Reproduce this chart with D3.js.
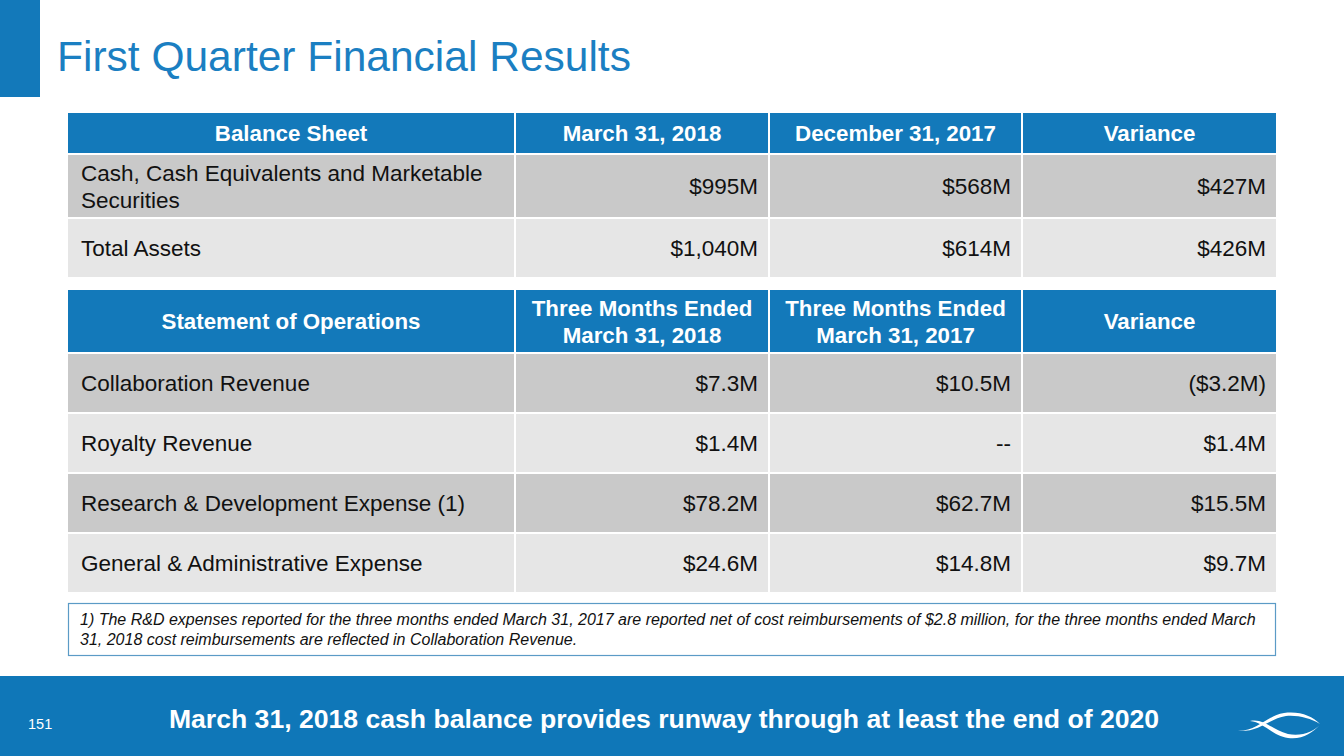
<!DOCTYPE html>
<html>
<head>
<meta charset="utf-8">
<script src="https://cdn.jsdelivr.net/npm/d3@7"></script>
<style>
  body { margin: 0; background: #fff; }
  svg { display: block; font-family: "Liberation Sans", Arial, sans-serif; }
</style>
</head>
<body>
<svg width="1344" height="756"></svg>
<script>
// data
const title = 'First Quarter Financial Results';
const balanceHeaders = [['Balance Sheet'], ['March 31, 2018'], ['December 31, 2017'], ['Variance']];
const balanceLabels = [['Cash, Cash Equivalents and Marketable', 'Securities'], ['Total Assets']];
const balanceMar2018 = ['$995M', '$1,040M'];
const balanceDec2017 = ['$568M', '$614M'];
const balanceVariance = ['$427M', '$426M'];

const opsHeaders = [['Statement of Operations'], ['Three Months Ended', 'March 31, 2018'], ['Three Months Ended', 'March 31, 2017'], ['Variance']];
const opsLabels = [['Collaboration Revenue'], ['Royalty Revenue'], ['Research & Development Expense (1)'], ['General & Administrative Expense']];
const opsQ1_2018 = ['$7.3M', '$1.4M', '$78.2M', '$24.6M'];
const opsQ1_2017 = ['$10.5M', '--', '$62.7M', '$14.8M'];
const opsVariance = ['($3.2M)', '$1.4M', '$15.5M', '$9.7M'];

const footnote = [
  '1) The R&D expenses reported for the three months ended March 31, 2017 are reported net of cost reimbursements of $2.8 million, for the three months ended March',
  '31, 2018 cost reimbursements are reflected in Collaboration Revenue.'
];
const bannerText = 'March 31, 2018 cash balance provides runway through at least the end of 2020';
const pageNumber = '151';

// colours
const blue = '#1379ba';
const titleBlue = '#1b7fc2';
const rowFills = ['#c9c9c9', '#e6e6e6'];

const svg = d3.select('svg');

// header accent + title
svg.append('rect').attr('x', 0).attr('y', 0).attr('width', 40).attr('height', 97).attr('fill', '#1379ba');
svg.append('text')
  .attr('x', 57).attr('y', 71)
  .attr('font-size', 42.5)
  .attr('fill', titleBlue)
  .text(title);

// column scale (shared by both tables)
const colWeights = [448, 254, 253, 255];
const colEdges = [0, ...d3.cumsum(colWeights)];
const xScale = d3.scaleLinear().domain([0, d3.sum(colWeights)]).range([68, 1278]);
const gap = 2;
const lineGap = 27;

const drawTable = (selection, { top, headerH, rowHs, headers, rows }) => {
  const yEdges = [top, ...d3.cumsum([headerH, ...rowHs]).map(v => top + v)];

  const g = selection.append('g');

  // header
  const head = g.selectAll('g.head').data(headers).join('g').attr('class', 'head');
  head.append('rect')
    .attr('x', (d, i) => xScale(colEdges[i]))
    .attr('y', yEdges[0])
    .attr('width', (d, i) => xScale(colEdges[i + 1]) - xScale(colEdges[i]) - gap)
    .attr('height', headerH - gap)
    .attr('fill', blue);
  head.append('text')
    .attr('text-anchor', 'middle')
    .attr('fill', '#fff')
    .attr('font-weight', 'bold')
    .attr('font-size', 22.3)
    .attr('x', (d, i) => (xScale(colEdges[i]) + xScale(colEdges[i + 1]) - gap) / 2)
    .attr('y', d => yEdges[0] + (headerH - gap) / 2 - (d.length - 1) * lineGap / 2)
    .selectAll('tspan').data(d => d).join('tspan')
    .attr('x', function () { return this.parentNode.getAttribute('x'); })
    .attr('dy', (d, i) => i === 0 ? '0.36em' : lineGap)
    .text(d => d);

  // body rows
  const row = g.selectAll('g.row').data(rows).join('g').attr('class', 'row');
  row.each(function (r, ri) {
    const y0 = yEdges[ri + 1];
    const h = yEdges[ri + 2] - y0 - gap;
    const rg = d3.select(this);
    rg.selectAll('rect').data(r).join('rect')
      .attr('x', (d, i) => xScale(colEdges[i]))
      .attr('y', y0)
      .attr('width', (d, i) => xScale(colEdges[i + 1]) - xScale(colEdges[i]) - gap)
      .attr('height', h)
      .attr('fill', rowFills[ri % 2]);
    rg.selectAll('text').data(r).join('text')
      .attr('font-size', 22.5)
      .attr('fill', '#111')
      .attr('text-anchor', (d, i) => i === 0 ? 'start' : 'end')
      .attr('x', (d, i) => i === 0 ? xScale(colEdges[0]) + 13 : xScale(colEdges[i + 1]) - gap - 10)
      .attr('y', d => y0 + h / 2 - ((Array.isArray(d) ? d.length : 1) - 1) * lineGap / 2)
      .each(function (d) {
        const lines = Array.isArray(d) ? d : [d];
        const t = d3.select(this);
        t.selectAll('tspan').data(lines).join('tspan')
          .attr('x', t.attr('x'))
          .attr('dy', (l, i) => i === 0 ? '0.36em' : lineGap)
          .text(l => l);
      });
  });
};

svg.call(drawTable, {
  top: 113,
  headerH: 42,
  rowHs: [64, 60],
  headers: balanceHeaders,
  rows: balanceLabels.map((l, i) => [l, balanceMar2018[i], balanceDec2017[i], balanceVariance[i]])
});

svg.call(drawTable, {
  top: 290,
  headerH: 64,
  rowHs: [60, 60, 60, 60],
  headers: opsHeaders,
  rows: opsLabels.map((l, i) => [l, opsQ1_2018[i], opsQ1_2017[i], opsVariance[i]])
});

// footnote box
svg.append('rect')
  .attr('x', 68.5).attr('y', 603.5).attr('width', 1207).attr('height', 52)
  .attr('fill', '#fff').attr('stroke', '#5b9bc6').attr('stroke-width', 1.2);
svg.append('g').selectAll('text').data(footnote).join('text')
  .attr('x', 80)
  .attr('y', (d, i) => 625 + i * 20)
  .attr('font-size', 16)
  .attr('font-style', 'italic')
  .attr('fill', '#111')
  .text(d => d);

// footer banner
svg.append('rect').attr('x', 0).attr('y', 676).attr('width', 1344).attr('height', 80).attr('fill', '#0f77b8');
svg.append('text')
  .attr('x', 664).attr('y', 728)
  .attr('text-anchor', 'middle')
  .attr('font-size', 26.6)
  .attr('font-weight', 'bold')
  .attr('fill', '#fff')
  .text(bannerText);
svg.append('text')
  .attr('x', 28).attr('y', 729)
  .attr('font-size', 14.5)
  .attr('fill', '#fff')
  .text(pageNumber);

// logo swoosh
const logo = svg.append('g').attr('fill', '#fff');
logo.append('path').attr('d', 'M1238,731 C1258,731 1266,716 1284,713 C1300,711 1312,716 1320,724 C1310,718 1298,715 1286,716 C1268,719 1260,732 1238,731 Z');
logo.append('path').attr('d', 'M1250,721 C1264,718 1272,730 1288,734 C1302,737 1314,731 1320,725 C1312,733 1302,740 1288,738 C1272,736 1264,722 1250,721 Z');
</script>
</body>
</html>
